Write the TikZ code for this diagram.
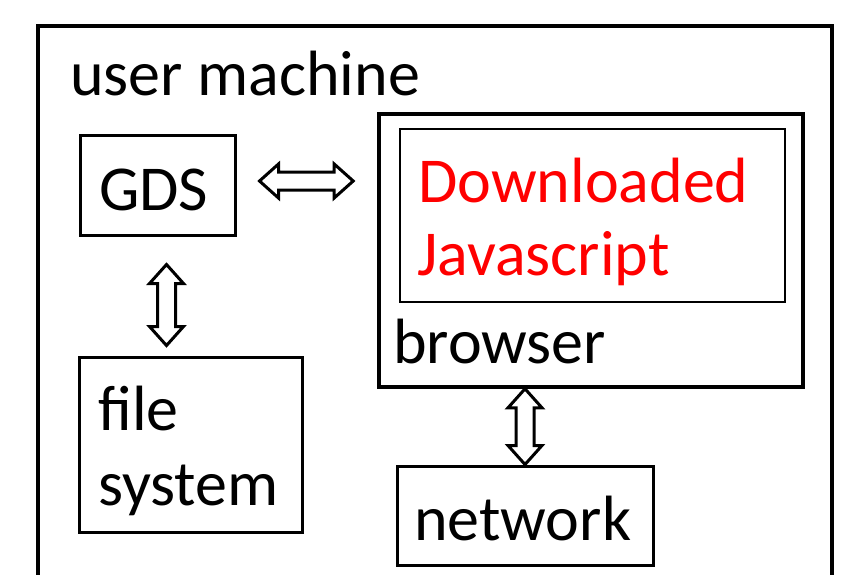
\documentclass[tikz,border=0pt]{standalone}
\usepackage{fontspec}
\setmainfont{Carlito}
\usetikzlibrary{calc}

% head length, head half-width, shaft half-width of the hollow double arrows
\newcommand\hlen{19pt}
\newcommand\hwid{17pt}
\newcommand\swid{9pt}

% hollow block arrow with a head at each end, from #1 to #2
\newcommand\dblarrow[2]{%
  \draw[blockarrow]
    (#1)
    -- ($(#1)!\hlen!(#2)!\hwid!90:(#2)$)
    -- ($(#1)!\hlen!(#2)!\swid!90:(#2)$)
    -- ($(#2)!\hlen!(#1)!\swid!-90:(#1)$)
    -- ($(#2)!\hlen!(#1)!\hwid!-90:(#1)$)
    -- (#2)
    -- ($(#2)!\hlen!(#1)!\hwid!90:(#1)$)
    -- ($(#2)!\hlen!(#1)!\swid!90:(#1)$)
    -- ($(#1)!\hlen!(#2)!\swid!-90:(#2)$)
    -- ($(#1)!\hlen!(#2)!\hwid!-90:(#2)$)
    -- cycle;}

\tikzset{
  box/.style={draw, rectangle, line width=3pt, inner sep=0pt},
  thickbox/.style={box, line width=3.6pt},
  thinbox/.style={box, line width=1.3pt},
  label/.style={anchor=base west, inner sep=0pt,
    font=\fontsize{64}{73}\selectfont},
  jstext/.style={label, text=red},
  blockarrow/.style={draw, fill=white, line width=3pt, line join=miter}
}

\begin{document}
\begin{tikzpicture}[x=1pt,y=-1pt]
\clip (0,0) rectangle (848,574);

% enclosing machine
\node[thickbox, minimum width=794pt, minimum height=594pt] (um) at (435,323) {};
\node[label] (umtext) at (70,95) {user machine};

% local components
\node[box, minimum width=155pt, minimum height=100pt] (gds) at (157.5,185) {};
\node[label] (gdstext) at (99,210) {GDS};

\node[box, minimum width=223pt, minimum height=175pt] (fs) at (190.5,444.5) {};
\node[label] (fstext1) at (98,430) {file};
\node[label] (fstext2) at (98,505) {system};

\node[thickbox, minimum width=424pt, minimum height=273pt] (brw) at (591,250.5) {};
\node[thinbox, minimum width=385pt, minimum height=173pt] (js) at (592.5,215.5) {};
\node[jstext] (jstext1) at (418,202) {Downloaded};
\node[jstext] (jstext2) at (417,275) {Javascript};
\node[label] (brwtext) at (393,363) {browser};

\node[box, minimum width=256pt, minimum height=99pt] (net) at (525,515.5) {};
\node[label] (nettext) at (414,540) {network};

% connector end points
\coordinate (h1) at ($(gds.east)+(23,-4)$);
\coordinate (h2) at ($(h1 -| brw.west)+(-24,0)$);
\coordinate (v1) at ($(gds.south)+(9,28)$);
\coordinate (v2) at ($(v1 |- fs.north)+(0,-10)$);
\coordinate (w1) at (net.north |- brw.south);
\coordinate (w2) at (net.north);

\dblarrow{h1}{h2}
\dblarrow{v1}{v2}
\dblarrow{w1}{w2}
\end{tikzpicture}
\end{document}
